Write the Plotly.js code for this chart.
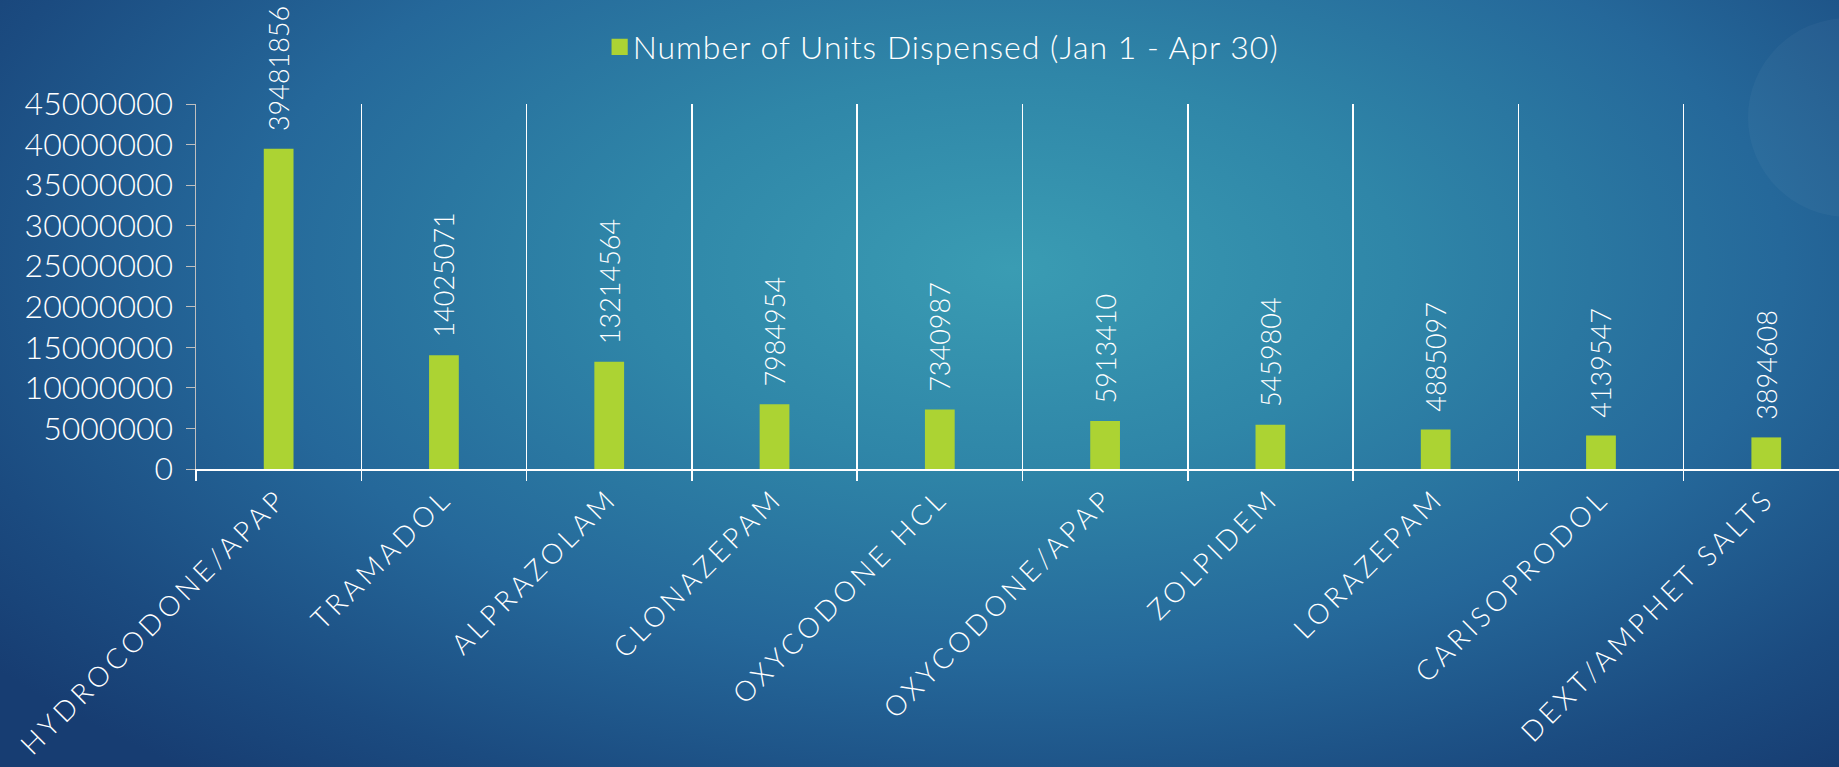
<!DOCTYPE html>
<html>
<head>
<meta charset="utf-8">
<script src="https://cdn.plot.ly/plotly-3.0.1.min.js"></script>
<style>
  html, body { margin: 0; padding: 0; width: 1839px; height: 767px; overflow: hidden; }
  body {
    background:
      radial-gradient(ellipse 70% 85% at 55% 35%, #3a9cb3 0%, #2f86a8 30%, #25689a 60%, #1b4b80 85%, #173d72 100%);
  }
  #chart { width: 1839px; height: 767px; }
  .xtick text { letter-spacing: 4px; }
  .legendtext { letter-spacing: 1px; }
  .legendpoints path { scale: 1.35; transform-box: fill-box; transform-origin: center; }
</style>
</head>
<body>
<div id="chart"></div>
<script>
const drugs = ["HYDROCODONE/APAP", "TRAMADOL", "ALPRAZOLAM", "CLONAZEPAM", "OXYCODONE HCL",
               "OXYCODONE/APAP", "ZOLPIDEM", "LORAZEPAM", "CARISOPRODOL", "DEXT/AMPHET SALTS"];
const unitsDispensed = [39481856, 14025071, 13214564, 7984954, 7340987,
                        5913410, 5459804, 4885097, 4139547, 3894608];
const seriesName = "Number of Units Dispensed (Jan 1 - Apr 30)";
const yTicks = [0, 5000000, 10000000, 15000000, 20000000, 25000000, 30000000, 35000000, 40000000, 45000000];

const FONT = "Lato, 'Open Sans', sans-serif";

const trace = {
  type: "bar",
  x: drugs,
  y: unitsDispensed,
  name: seriesName,
  width: 0.18,
  marker: { color: "#acd333" },
  text: unitsDispensed.map(v => "\u00a0\u00a0" + String(v)),
  textposition: "outside",
  textangle: -90,
  constraintext: "none",
  cliponaxis: false,
  textfont: { family: FONT, size: 27, color: "#ffffff", weight: 300 },
  hoverinfo: "x+y"
};

const layout = {
  width: 1839,
  height: 767,
  margin: { l: 196, r: 0, t: 104, b: 298 },
  paper_bgcolor: "rgba(0,0,0,0)",
  plot_bgcolor: "rgba(0,0,0,0)",
  font: { family: FONT, color: "#ffffff", weight: 300 },
  showlegend: true,
  legend: {
    orientation: "h",
    x: 0.452, xanchor: "center",
    y: 1.156, yanchor: "middle",
    font: { family: FONT, size: 32, color: "#ffffff", weight: 300 },
    bgcolor: "rgba(0,0,0,0)"
  },
  xaxis: {
    type: "category",
    range: [-0.5, 9.44],
    tickson: "boundaries",
    showgrid: true,
    gridcolor: "#ffffff",
    gridwidth: 1.5,
    ticks: "outside",
    ticklen: 10,
    tickwidth: 1.5,
    tickcolor: "#ffffff",
    showline: true,
    linecolor: "#ffffff",
    linewidth: 2,
    tickangle: -45,
    tickfont: { family: FONT, size: 28, color: "#ffffff", weight: 300 },
    zeroline: false,
    fixedrange: true
  },
  yaxis: {
    range: [0, 45000000],
    tickvals: yTicks,
    ticktext: yTicks.map(v => String(v)),
    showgrid: false,
    zeroline: false,
    ticks: "outside",
    ticklen: 9,
    tickcolor: "#bfbfbf",
    showline: true,
    linecolor: "#bfbfbf",
    linewidth: 1.5,
    ticklabelstandoff: 6,
    tickfont: { family: FONT, size: 32, color: "#ffffff", weight: 300 },
    fixedrange: true
  },
  shapes: [{
    type: "circle",
    xref: "paper", yref: "paper",
    x0: (1748 - 196) / 1643, x1: (1948 - 196) / 1643,
    y0: (469 - 217) / 365, y1: (469 - 18) / 365,
    fillcolor: "rgba(255,255,255,0.035)",
    line: { width: 0 },
    layer: "below"
  }]
};

Plotly.newPlot("chart", [trace], layout, { displayModeBar: false, staticPlot: true });
</script>
</body>
</html>
